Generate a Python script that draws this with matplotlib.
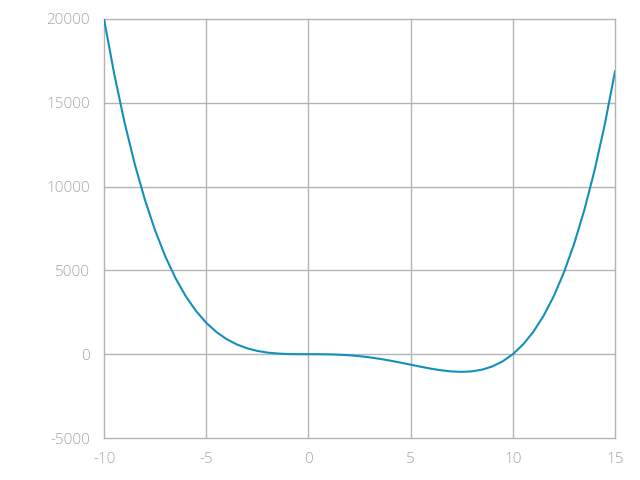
import matplotlib
matplotlib.use("Agg")
import matplotlib.pyplot as plt

x_values = [-10, -9.5, -9, -8.5, -8, -7.5, -7, -6.5, -6, -5.5, -5, -4.5, -4, -3.5, -3,
            -2.5, -2, -1.5, -1, -0.5, 0, 0.5, 1, 1.5, 2, 2.5, 3, 3.5, 4, 4.5, 5,
            5.5, 6, 6.5, 7, 7.5, 8, 8.5, 9, 9.5, 10, 10.5, 11, 11.5, 12, 12.5, 13,
            13.5, 14, 14.5, 15]
y_values = [20000, 16718.8, 13851, 11361.3, 9216, 7382.8, 5831, 4531.3, 3456, 2578.8,
            1875, 1321.3, 896, 578.8, 351, 195.3, 96, 38.8, 11, 1.3, 0, -1.2, -9,
            -28.7, -64, -117.2, -189, -278.7, -384, -501.2, -625, -748.7, -864,
            -961.2, -1029, -1054.7, -1024, -921.2, -729, -428.7, 0, 578.8, 1331,
            2281.3, 3456, 4882.8, 6591, 8611.3, 10976, 13718.8, 16875]
x_ticks = [-10, -5, 0, 5, 10, 15]
y_ticks = [-5000, 0, 5000, 10000, 15000, 20000]

plt.rcParams['font.family'] = ['Open Sans', 'DejaVu Sans']

fig = plt.figure(figsize=(6.4, 4.8), dpi=100)
ax = fig.add_axes([0.1625, 0.0875, 0.7985, 0.873])
ax.plot(x_values, y_values, color='#1490b8', linewidth=1.5, zorder=3)
ax.set_xlim(-10, 15)
ax.set_ylim(-5000, 20000)
ax.set_xticks(x_ticks)
ax.set_yticks(y_ticks)
ax.set_xticklabels([str(v) for v in x_ticks])
ax.set_yticklabels([str(v) for v in y_ticks])
ax.grid(True, color='#b4b4b4', linewidth=1.0)
for gl in ax.get_xgridlines() + ax.get_ygridlines():
    gl.set_clip_on(False)
for s in ax.spines.values():
    s.set_visible(False)
ax.tick_params(axis='both', length=0, labelsize=11, colors='#a6a6a6', labelcolor='#a6a6a6')
ax.tick_params(axis='y', pad=10)
ax.tick_params(axis='x', pad=10)
for lab in ax.get_xticklabels() + ax.get_yticklabels():
    lab.set_fontweight('light')
fig.savefig('out.png', dpi=100)
